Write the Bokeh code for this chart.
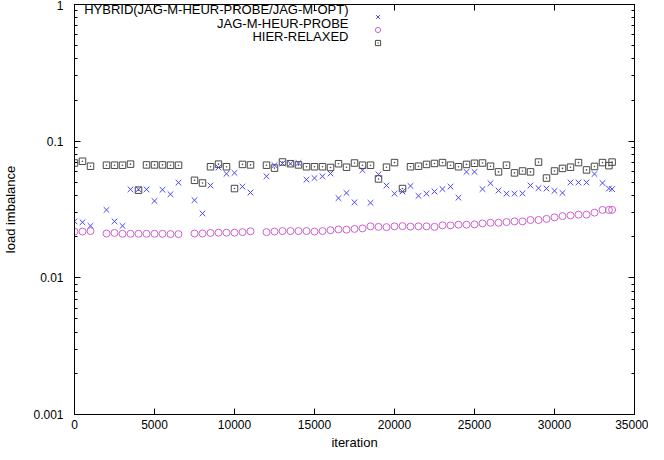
from bokeh.plotting import figure
from bokeh.models import (FixedTicker, CustomJSTickFormatter, LinearAxis, LogAxis,
                          Label, Legend, LegendItem, Range1d, CustomLabelingPolicy)
from bokeh.embed import file_html
from bokeh.resources import INLINE

iterations = [0, 500, 1000,
              2000, 2500, 3000, 3500, 4000, 4500, 5000, 5500, 6000, 6500,
              7500, 8000, 8500, 9000, 9500, 10000, 10500, 11000,
              12000, 12500, 13000, 13500, 14000, 14500, 15000, 15500, 16000, 16500,
              17000, 17500, 18000, 18500, 19000, 19500, 20000, 20500, 21000, 21500,
              22000, 22500, 23000, 23500, 24000, 24500, 25000, 25500, 26000, 26500,
              27000, 27500, 28000, 28500, 29000, 29500, 30000, 30500, 31000, 31500,
              32000, 32500, 33000, 33400, 33600]

hybrid = [0.0259, 0.0255, 0.0240,
          0.0314, 0.0259, 0.0240, 0.0444, 0.0444, 0.0444, 0.0365, 0.0441, 0.0409, 0.0497,
          0.0370, 0.0296, 0.0474, 0.0642, 0.0577, 0.0586, 0.0465, 0.0421,
          0.0553, 0.0667, 0.0687, 0.0684, 0.0692, 0.0523, 0.0537, 0.0553, 0.0580, 0.0383,
          0.0418, 0.0357, 0.0613, 0.0354, 0.0571, 0.0474, 0.0413, 0.0428, 0.0470, 0.0398,
          0.0413, 0.0428, 0.0446, 0.0465, 0.0386, 0.0596, 0.0596, 0.0446, 0.0492, 0.0435,
          0.0413, 0.0413, 0.0415, 0.0474, 0.0453, 0.0450, 0.0433, 0.0418, 0.0499, 0.0499,
          0.0499, 0.0575, 0.0494, 0.0450, 0.0446]

jag_probe = [0.0218, 0.0218, 0.0220,
             0.0211, 0.0213, 0.0210, 0.0210, 0.0210, 0.0210, 0.0210, 0.0210, 0.0209, 0.0209,
             0.0211, 0.0211, 0.0213, 0.0214, 0.0214, 0.0214, 0.0216, 0.0219,
             0.0216, 0.0218, 0.0220, 0.0220, 0.0220, 0.0220, 0.0218, 0.0220, 0.0223, 0.0226,
             0.0225, 0.0228, 0.0230, 0.0238, 0.0236, 0.0235, 0.0238, 0.0239, 0.0237, 0.0238,
             0.0238, 0.0236, 0.0242, 0.0242, 0.0245, 0.0245, 0.0246, 0.0250, 0.0253, 0.0253,
             0.0256, 0.0259, 0.0259, 0.0265, 0.0265, 0.0270, 0.0277, 0.0283, 0.0286, 0.0290,
             0.0290, 0.0300, 0.0314, 0.0314, 0.0314]

hier_relaxed = [0.0692, 0.0713, 0.0656,
                0.0667, 0.0667, 0.0667, 0.0679, 0.0438, 0.0670, 0.0670, 0.0670, 0.0667, 0.0667,
                0.0517, 0.0494, 0.0650, 0.0679, 0.0650, 0.0450, 0.0676, 0.0670,
                0.0667, 0.0635, 0.0704, 0.0684, 0.0670, 0.0650, 0.0650, 0.0650, 0.0642, 0.0684,
                0.0645, 0.0692, 0.0667, 0.0667, 0.0529, 0.0645, 0.0697, 0.0450, 0.0650, 0.0656,
                0.0676, 0.0687, 0.0697, 0.0667, 0.0650, 0.0676, 0.0689, 0.0692, 0.0656, 0.0596,
                0.0667, 0.0586, 0.0605, 0.0596, 0.0703, 0.0537, 0.0605, 0.0632, 0.0645, 0.0697,
                0.0616, 0.0653, 0.0697, 0.0662, 0.0703]

series_names = ["HYBRID(JAG-M-HEUR-PROBE/JAG-M-OPT)", "JAG-M-HEUR-PROBE", "HIER-RELAXED"]
x_ticks = [0, 5000, 10000, 15000, 20000, 25000, 30000, 35000]
y_ticks = [0.001, 0.01, 0.1, 1]
y_minor = [m * d for d in [0.001, 0.01, 0.1] for m in range(2, 10)]

FONT = "Liberation Sans"

p = figure(width=648, height=452, output_backend="svg", toolbar_location=None,
           y_axis_type="log", x_range=Range1d(0, 35000), y_range=Range1d(0.001, 1),
           min_border_left=68, min_border_right=14, min_border_top=0, min_border_bottom=38,
           x_axis_label="iteration", y_axis_label="load imbalance")
p.background_fill_color = "white"
p.border_fill_color = "white"
p.outline_line_color = "black"
p.outline_line_alpha = 1
p.outline_line_width = 1
p.grid.visible = False

xt = FixedTicker(ticks=x_ticks, minor_ticks=[])
yt = FixedTicker(ticks=y_ticks, minor_ticks=y_minor)
yfmt = CustomJSTickFormatter(code="return tick.toString();")

for ax in p.xaxis:
    ax.ticker = xt
for ax in p.yaxis:
    ax.ticker = yt
    ax.formatter = yfmt

for ax in p.axis:
    ax.major_tick_in = 6
    ax.major_tick_out = 0
    ax.minor_tick_in = 3
    ax.minor_tick_out = 0
    ax.axis_line_color = "black"
    ax.major_tick_line_color = "black"
    ax.minor_tick_line_color = "black"
    ax.major_label_text_font = FONT
    ax.major_label_text_font_size = "12px"
    ax.major_label_text_color = "black"
    ax.axis_label_text_font = FONT
    ax.axis_label_text_font_size = "13px"
    ax.axis_label_text_font_style = "normal"
    ax.axis_label_text_color = "black"

p.xaxis.major_label_standoff = 5
p.xaxis.axis_label_standoff = 3
p.yaxis.major_label_standoff = 11
p.yaxis.axis_label_standoff = 12

hide = CustomLabelingPolicy(code="return [];")
top = LinearAxis(ticker=xt, major_label_text_font_size="1px", major_tick_in=6, major_tick_out=0,
                 minor_tick_in=0, minor_tick_out=0, major_label_standoff=0,
                 major_label_policy=hide,
                 axis_line_color="black", major_tick_line_color="black")
right = LogAxis(ticker=yt, formatter=yfmt, major_label_text_font_size="1px", major_tick_in=6,
                major_tick_out=0, minor_tick_in=3, minor_tick_out=0, major_label_standoff=0,
                major_label_policy=hide,
                axis_line_color="black", major_tick_line_color="black", minor_tick_line_color="black")
p.add_layout(top, "above")
p.add_layout(right, "right")

r1 = p.scatter(iterations, hybrid, marker="x", size=8, line_color="#4646ff", line_width=1)
r2 = p.scatter(iterations, jag_probe, marker="circle", size=7, fill_color=None,
               line_color="#d060d0", line_width=1)
r3 = p.scatter(iterations, hier_relaxed, marker="square_dot", size=6.5, fill_color=None,
               line_color="#484848", line_width=1)

legend = Legend(items=[LegendItem(label="", renderers=[r]) for r in (r1, r2, r3)],
                location=(297, 365), padding=0, margin=0, spacing=0,
                glyph_width=13, glyph_height=13, label_width=0, label_standoff=0,
                label_text_font_size="1px", border_line_alpha=0, background_fill_alpha=0)
p.add_layout(legend, "center")

rows_y = [405, 391, 378]
for name, yy in zip(series_names, rows_y):
    p.add_layout(Label(x=274, y=yy, x_units="screen", y_units="screen", text=name,
                       text_align="right", text_baseline="middle", text_font=FONT,
                       text_font_size="13px", text_color="black"))

open("out.html", "w").write(file_html(p, INLINE))
